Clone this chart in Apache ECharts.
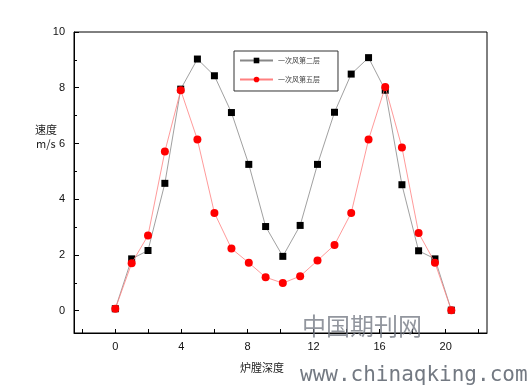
<!DOCTYPE html>
<html><head><meta charset="utf-8">
<script src="https://cdn.jsdelivr.net/npm/echarts@6/dist/echarts.min.js"></script>
<style>html,body{margin:0;padding:0;background:#fff}#c{width:530px;height:387px}</style>
</head><body><div id="c"></div>
<script>
const depth = [0, 0.99, 1.98, 3.0, 3.96, 4.97, 6.0, 7.03, 8.08, 9.1, 10.14, 11.19, 12.24, 13.27, 14.28, 15.33, 16.34, 17.35, 18.36, 19.35, 20.34];
const layer2 = [0.07, 1.86, 2.16, 4.57, 7.95, 9.03, 8.43, 7.11, 5.25, 3.02, 1.95, 3.06, 5.25, 7.12, 8.49, 9.08, 7.91, 4.52, 2.15, 1.86, 0.02];
const layer5 = [0.07, 1.70, 2.70, 5.71, 7.91, 6.14, 3.51, 2.23, 1.72, 1.20, 0.99, 1.24, 1.80, 2.36, 3.51, 6.14, 8.03, 5.86, 2.79, 1.72, 0.02];
const seriesNames = ['一次风第二层', '一次风第五层'];
const xLabels = [0, 4, 8, 12, 16, 20];
const xTicks = [-2, 0, 2, 4, 6, 8, 10, 12, 14, 16, 18, 20, 22];
const yLabels = [0, 2, 4, 6, 8, 10];
const yMinor = [1, 3, 5, 7, 9];

const chart = echarts.init(document.getElementById('c'), null, {renderer: 'canvas'});
const font = 'Liberation Sans, Arial, sans-serif';
chart.setOption({
  animation: false,
  backgroundColor: '#fff',
  grid: {left: 74, right: 43, top: 32, bottom: 54, show: true, borderColor: '#000', borderWidth: 1, backgroundColor: 'transparent'},
  legend: {
    orient: 'vertical', left: 234, top: 51,
    itemWidth: 33, itemHeight: 7, itemGap: 12,
    padding: [6, 18, 8, 5],
    borderColor: '#333', borderWidth: 1,
    textStyle: {fontSize: 7, color: '#444', fontFamily: 'Noto Sans CJK SC'},
    data: seriesNames
  },
  xAxis: {
    type: 'value', min: -2.5, max: 22.5,
    axisLine: {onZero: false, lineStyle: {color: '#000', width: 1}},
    axisTick: {show: true, inside: true, length: 4, customValues: xTicks, lineStyle: {color: '#000'}},
    axisLabel: {customValues: xLabels, margin: 8, fontSize: 11, color: '#111', fontFamily: font},
    splitLine: {show: false}
  },
  yAxis: [{
    type: 'value', min: -0.8, max: 10,
    axisLine: {show: true, onZero: false, lineStyle: {color: '#000', width: 1}},
    axisTick: {show: true, inside: true, length: 5, customValues: yLabels, lineStyle: {color: '#000'}},
    axisLabel: {customValues: yLabels, margin: 9, fontSize: 11, color: '#111', fontFamily: font},
    splitLine: {show: false}
  }, {
    type: 'value', min: -0.8, max: 10, position: 'left',
    axisLine: {show: false, onZero: false},
    axisTick: {show: true, inside: true, length: 3, customValues: yMinor, lineStyle: {color: '#000'}},
    axisLabel: {show: false},
    splitLine: {show: false}
  }],
  series: [{
    name: seriesNames[0], type: 'line', yAxisIndex: 0,
    data: depth.map((d, i) => [d, layer2[i]]),
    symbol: 'rect', symbolSize: 7,
    itemStyle: {color: '#000'},
    lineStyle: {color: '#888', width: 0.8},
    z: 2
  }, {
    name: seriesNames[1], type: 'line', yAxisIndex: 0,
    data: depth.map((d, i) => [d, layer5[i]]),
    symbol: 'circle', symbolSize: 8,
    itemStyle: {color: '#ff0000'},
    lineStyle: {color: '#ff8080', width: 0.8},
    z: 3
  }],
  graphic: [
    {type: 'text', left: 35, top: 124, style: {text: '速度', font: '11px "Noto Sans CJK SC"', fill: '#222'}},
    {type: 'text', left: 36, top: 138, style: {text: 'm/s', font: '11px "Noto Sans CJK SC"', fill: '#222'}},
    {type: 'text', left: 240, top: 362, style: {text: '炉膛深度', font: '11px "Noto Sans CJK SC"', fill: '#222'}},
    {type: 'text', left: 302, top: 314, z: 100, style: {text: '中国期刊网', font: '24px "Noto Sans CJK SC"', fill: 'rgba(110,115,125,0.75)'}},
    {type: 'text', left: 300, top: 365, z: 100, style: {text: 'www.chinaqking.com', font: '21px "DejaVu Sans Mono"', fill: 'rgba(100,106,116,0.9)'}}
  ]
});
</script></body></html>
